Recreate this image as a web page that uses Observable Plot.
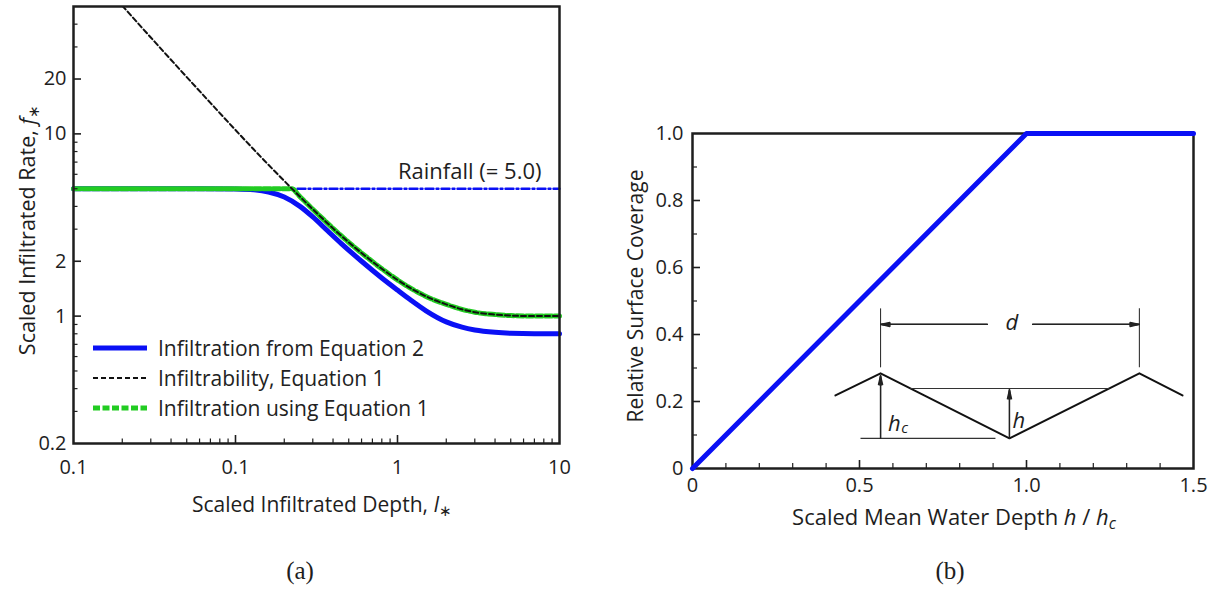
<!DOCTYPE html>
<html><head><meta charset="utf-8">
<script src="https://cdn.jsdelivr.net/npm/d3@7"></script>
<script src="https://cdn.jsdelivr.net/npm/@observablehq/plot@0.6"></script>
<style>
html,body{margin:0;padding:0;background:#fff;}
#wrap{position:relative;width:1214px;height:592px;overflow:hidden;font-family:"Open Sans",sans-serif;color:#222;}
#wrap svg.plot{position:absolute;top:0;}
.legrow{position:absolute;display:flex;align-items:center;height:30px;font-size:21px;white-space:nowrap;color:#222;}
.legrow svg{margin-right:11px;}
</style></head><body><div id="wrap"></div>
<script>
// ---------- Panel (a) data ----------
const depthEq2 = [0.01, 0.03, 0.06, 0.1, 0.13, 0.16, 0.2, 0.25, 0.3, 0.37, 0.45, 0.6, 0.8, 1.0, 1.2, 1.5, 2.0, 2.5, 3.0, 4.0, 5.0, 7.0, 10];
const rateEq2  = [5.0, 5.0, 5.0, 4.98, 4.93, 4.8, 4.5, 4.0, 3.5, 2.94, 2.5, 2.0, 1.62, 1.39, 1.23, 1.07, 0.93, 0.87, 0.84, 0.815, 0.805, 0.80, 0.80];

const depthEq1 = [0.02, 0.03, 0.05, 0.07, 0.1, 0.15, 0.2, 0.25, 0.3, 0.4, 0.5, 0.6, 0.8, 1.0, 1.3, 1.6, 2.0, 2.5, 3.0, 4.0, 5.0, 7.0, 10];
const rateEq1  = [50.5, 33.8, 20.5, 14.8, 10.5, 7.17, 5.52, 4.52, 3.86, 3.03, 2.54, 2.22, 1.82, 1.58, 1.37, 1.25, 1.16, 1.09, 1.05, 1.02, 1.007, 1.0, 1.0];

const depthUse1 = [0.01, 0.1, 0.222, 0.25, 0.3, 0.4, 0.5, 0.6, 0.8, 1.0, 1.3, 1.6, 2.0, 2.5, 3.0, 4.0, 5.0, 7.0, 10];
const rateUse1  = [5.0, 5.0, 5.0, 4.52, 3.86, 3.03, 2.54, 2.22, 1.82, 1.58, 1.37, 1.25, 1.16, 1.09, 1.05, 1.02, 1.007, 1.0, 1.0];

const rainDepth = [0.01, 10];
const rainRate  = [5.0, 5.0];
const rainLabel = "Rainfall (= 5.0)";

const aXTicks = [0.01, 0.1, 1, 10];
const aXTickLabels = ["0.1", "0.1", "1", "10"];
const aXMinor = [0.02,0.03,0.04,0.05,0.06,0.07,0.08,0.09,0.2,0.3,0.4,0.5,0.6,0.7,0.8,0.9,2,3,4,5,6,7,8,9];
const aYTicks = [0.2, 1, 2, 10, 20];
const aYTickLabels = ["0.2", "1", "2", "10", "20"];
const aYMinor = [0.3,0.4,0.5,0.6,0.7,0.8,0.9,3,4,5,6,7,8,9,30,40];

const legendNames = ["Infiltration from Equation 2", "Infiltrability, Equation 1", "Infiltration using Equation 1"];

// ---------- Panel (b) data ----------
const depthRatio = [0, 1.0, 1.5];
const coverage   = [0, 1.0, 1.0];

const bXTicks = [0, 0.5, 1.0, 1.5];
const bXTickLabels = ["0", "0.5", "1.0", "1.5"];
const bXMinor = [0.1,0.2,0.3,0.4,0.6,0.7,0.8,0.9,1.1,1.2,1.3,1.4];
const bYTicks = [0, 0.2, 0.4, 0.6, 0.8, 1.0];
const bYTickLabels = ["0", "0.2", "0.4", "0.6", "0.8", "1.0"];
const bYMinor = [0.1, 0.3, 0.5, 0.7, 0.9];

// inset sketch (in panel-b data units)
const ridgeX = [0.428, 0.563, 0.949, 1.338, 1.467];
const ridgeY = [0.218, 0.284, 0.090, 0.284, 0.218];
const segX1 = [0.652, 0.503, 0.563, 1.338];
const segY1 = [0.239, 0.090, 0.302, 0.302];
const segX2 = [1.248, 0.907, 0.563, 1.338];
const segY2 = [0.239, 0.090, 0.478, 0.478];
const arrX1 = [0.883, 1.018, 0.563, 0.949];
const arrY1 = [0.430, 0.430, 0.090, 0.090];
const arrX2 = [0.563, 1.338, 0.563, 0.949];
const arrY2 = [0.430, 0.430, 0.278, 0.236];
const insetLabels = ["d", "h", "c", "h"];
const insetLabX = [0.937, 0.585, 0.625, 0.958];
const insetLabY = [0.433, 0.134, 0.119, 0.143];
const insetLabSize = [22, 22, 15, 22];

// ---------- styles ----------
const BLUE = "#0a10f5", GREEN = "#22cc22", INK = "#1e1e1e";
const FONT = '"Open Sans", sans-serif';
const wrap = document.getElementById("wrap");

// ---------- Panel (a) ----------
const aW = 600, aH = 592, aML = 73, aMR = 41, aMT = 6, aMB = 149;
const aIW = aW - aML - aMR, aIH = aH - aMT - aMB;
const plotA = Plot.plot({
  width: aW, height: aH, marginLeft: aML, marginRight: aMR, marginTop: aMT, marginBottom: aMB,
  style: {fontFamily: FONT, fontSize: "20px", color: INK, background: "#fff"},
  x: {type: "log", domain: [0.01, 10]},
  y: {type: "log", domain: [0.2, 50]},
  marks: [
    Plot.line(depthEq2, {x: depthEq2, y: rateEq2, stroke: BLUE, strokeWidth: 5, curve: "monotone-x"}),
    Plot.line(rainDepth, {x: rainDepth, y: rainRate, stroke: BLUE, strokeWidth: 2.4, strokeDasharray: "8,3,2,3"}),
    Plot.line(depthUse1, {x: depthUse1, y: rateUse1, stroke: GREEN, strokeWidth: 5, strokeDasharray: "7,2.5", curve: "monotone-x"}),
    Plot.line(depthEq1, {x: depthEq1, y: rateEq1, stroke: "#111", strokeWidth: 2, strokeDasharray: "5,3", curve: "monotone-x", clip: true}),
    Plot.text([rainLabel], {x: [rainDepth[1]], y: [rainRate[1]], text: d => d, textAnchor: "end", dx: -18, dy: -17, fontSize: 22, fill: INK}),
    Plot.tickX(aXMinor, {x: d => d, insetTop: aIH - 4.5, stroke: INK, strokeWidth: 1.2}),
    Plot.tickX(aXTicks.slice(1, -1), {x: d => d, insetTop: aIH - 8, stroke: INK, strokeWidth: 1.6}),
    Plot.tickY(aYMinor, {y: d => d, insetRight: aIW - 4.5, stroke: INK, strokeWidth: 1.2}),
    Plot.tickY(aYTicks.slice(1), {y: d => d, insetRight: aIW - 8, stroke: INK, strokeWidth: 1.6}),
    Plot.axisX(aXTicks, {tickSize: 0, tickPadding: 16, fontSize: 20, label: null, tickFormat: d => aXTickLabels[aXTicks.indexOf(d)]}),
    Plot.axisY(aYTicks, {tickSize: 0, tickPadding: 7, fontSize: 20, label: null, tickFormat: d => aYTickLabels[aYTicks.indexOf(d)]}),
    Plot.frame({stroke: INK, strokeWidth: 2.5})
  ]
});
plotA.classList.add("plot");
plotA.style.left = "0px";
wrap.appendChild(plotA);

// ---------- Panel (b) ----------
const bW = 614, bH = 592, bML = 92, bMR = 21, bMT = 133, bMB = 124;
const bIW = bW - bML - bMR, bIH = bH - bMT - bMB;
const arrowOpts = {x1: arrX1, y1: arrY1, x2: arrX2, y2: arrY2, stroke: "#222", strokeWidth: 1.2, headLength: 12};
const plotB = Plot.plot({
  width: bW, height: bH, marginLeft: bML, marginRight: bMR, marginTop: bMT, marginBottom: bMB,
  style: {fontFamily: FONT, fontSize: "20px", color: INK, background: "transparent"},
  x: {domain: [0, 1.5]},
  y: {domain: [0, 1.0]},
  marks: [
    Plot.tickX(bXMinor, {x: d => d, insetTop: bIH - 5, stroke: INK, strokeWidth: 1.2}),
    Plot.tickX(bXTicks.slice(1, -1), {x: d => d, insetTop: bIH - 8, stroke: INK, strokeWidth: 1.6}),
    Plot.tickY(bYMinor, {y: d => d, insetRight: bIW - 5, stroke: INK, strokeWidth: 1.2}),
    Plot.tickY(bYTicks.slice(1, -1), {y: d => d, insetRight: bIW - 8, stroke: INK, strokeWidth: 1.6}),
    Plot.axisX(bXTicks, {tickSize: 0, tickPadding: 9, fontSize: 20, label: null, tickFormat: d => bXTickLabels[bXTicks.indexOf(d)]}),
    Plot.axisY(bYTicks, {tickSize: 0, tickPadding: 9, fontSize: 20, label: null, tickFormat: d => bYTickLabels[bYTicks.indexOf(d)]}),
    Plot.frame({stroke: INK, strokeWidth: 2.5}),
    Plot.line(ridgeX, {x: ridgeX, y: ridgeY, stroke: "#111", strokeWidth: 2}),
    Plot.link(segX1, {x1: segX1, y1: segY1, x2: segX2, y2: segY2, stroke: "#333", strokeWidth: 1.1}),
    Plot.arrow(arrX1, {...arrowOpts, headAngle: 26}),
    Plot.arrow(arrX1, {...arrowOpts, headAngle: 16}),
    Plot.arrow(arrX1, {...arrowOpts, headAngle: 7}),
    Plot.text(insetLabels, {x: insetLabX, y: insetLabY, text: d => d, fontSize: insetLabSize, fontStyle: "italic", textAnchor: "start", fill: INK}),
    Plot.line(depthRatio, {x: depthRatio, y: coverage, stroke: BLUE, strokeWidth: 5})
  ]
});
plotB.classList.add("plot");
plotB.style.left = "600px";
wrap.appendChild(plotB);

// ---------- axis titles & captions (rich text) ----------
function addText(svg, parts, {x, y, anchor = "middle", rotate = 0, size = 21, family = FONT}) {
  const t = d3.select(svg).append("text")
    .attr("transform", `translate(${x},${y}) rotate(${rotate})`)
    .attr("text-anchor", anchor).attr("font-size", size).attr("font-family", family).attr("fill", INK);
  for (const p of parts) {
    const s = t.append("tspan").text(p.t);
    if (p.i) s.attr("font-style", "italic");
    if (p.sub) s.attr("font-size", size * 0.72).attr("baseline-shift", "-25%");
  }
  return t;
}
addText(plotA, [{t: "Scaled Infiltrated Depth, "}, {t: "I", i: true}, {t: "\u2217", sub: true}], {x: 322, y: 512});
addText(plotA, [{t: "Scaled Infiltrated Rate, "}, {t: "f", i: true}, {t: "\u2217", sub: true}], {x: 35, y: 230, rotate: -90, size: 21.5});
addText(plotA, [{t: "(a)"}], {x: 300, y: 579, size: 25, family: '"Liberation Serif", "Times New Roman", serif'});
addText(plotB, [{t: "Scaled Mean Water Depth "}, {t: "h", i: true}, {t: " / "}, {t: "h", i: true}, {t: "c", i: true, sub: true}], {x: 354, y: 525, size: 22});
addText(plotB, [{t: "Relative Surface Coverage"}], {x: 43, y: 296, rotate: -90});
addText(plotB, [{t: "(b)"}], {x: 350, y: 579, size: 25, family: '"Liberation Serif", "Times New Roman", serif'});

// ---------- legend (inside panel a) ----------
const legStyles = [
  {stroke: BLUE, w: 5, dash: null},
  {stroke: "#111", w: 2, dash: "5,3"},
  {stroke: GREEN, w: 5, dash: "7,2.5"}
];
const legTops = [333, 363, 393];
legendNames.forEach((name, i) => {
  const row = document.createElement("div");
  row.className = "legrow";
  row.style.left = "93px";
  row.style.top = legTops[i] + "px";
  const st = legStyles[i];
  row.innerHTML = `<svg width="54" height="10"><line x1="0" y1="5" x2="54" y2="5" stroke="${st.stroke}" stroke-width="${st.w}" ${st.dash ? `stroke-dasharray="${st.dash}"` : ""}/></svg><span>${name}</span>`;
  wrap.appendChild(row);
});
</script>
</body></html>
